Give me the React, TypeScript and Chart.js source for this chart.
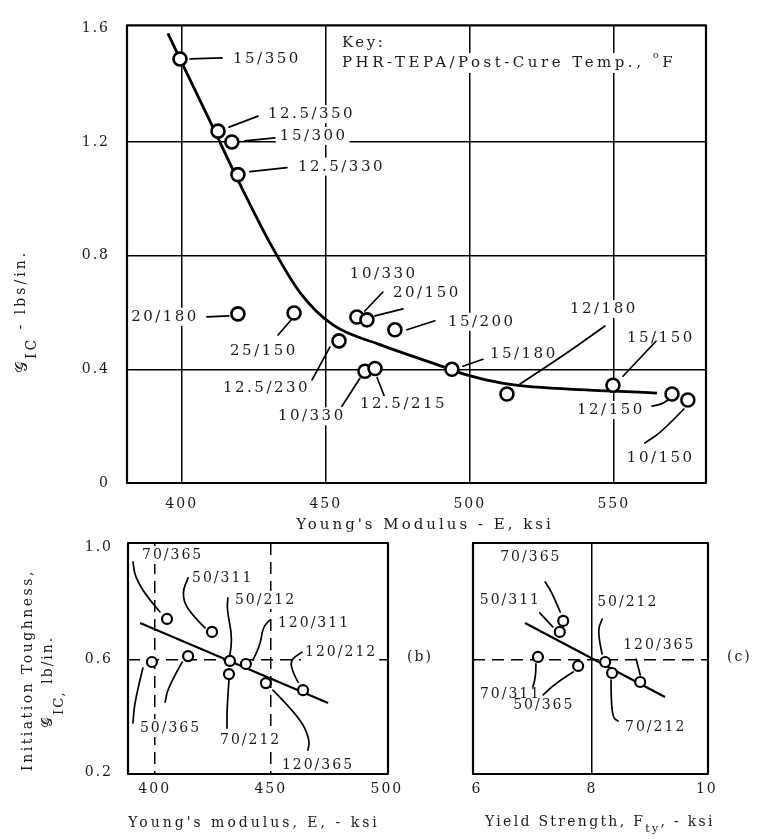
import { useEffect, useRef } from "react";
import { Chart, registerables } from "chart.js";
Chart.register(...registerables);

// ---------------- Panel (a): Young's modulus vs G_IC ----------------
const aNames = ["15/350", "12.5/350", "15/300", "12.5/330", "20/180", "25/150", "12.5/230", "10/330", "12.5/215", "10/330", "20/150", "15/200", "15/180", "12/180", "15/150", "12/150", "10/150"];
const aModulus = [399.4, 412.6, 417.4, 419.5, 419.5, 439.0, 454.6, 463.6, 467.1, 460.8, 464.3, 474.0, 493.8, 512.9, 549.7, 570.2, 575.7];
const aToughness = [1.492, 1.238, 1.2, 1.085, 0.595, 0.598, 0.5, 0.393, 0.403, 0.584, 0.574, 0.539, 0.4, 0.313, 0.344, 0.313, 0.292];
const aFitModulus = [395.2, 399.4, 409.8, 421.3, 430.6, 441.0, 452.5, 468.8, 491.4, 498.3, 511.2, 519.1, 565.0];
const aFitToughness = [1.582, 1.492, 1.273, 1.029, 0.845, 0.671, 0.556, 0.487, 0.407, 0.382, 0.351, 0.341, 0.316];
const aXTicks = [400, 450, 500, 550];
const aYTicks = [0, 0.4, 0.8, 1.2, 1.6];

// ---------------- Panel (b): Young's modulus vs initiation toughness ----------------
const bNames = ["70/365", "50/311", "50/365", "70/311", "50/212", "70/212", "120/311", "120/365", "120/212"];
const bModulus = [405.3, 424.7, 398.8, 414.4, 432.4, 432.0, 439.3, 447.9, 463.9];
const bToughness = [0.744, 0.698, 0.591, 0.612, 0.595, 0.548, 0.584, 0.516, 0.491];
const bFitModulus = [393.7, 474.7];
const bFitToughness = [0.73, 0.445];
const bXTicks = [400, 450, 500];
const bYTicks = [0.2, 0.6, 1.0];

// ---------------- Panel (c): yield strength vs initiation toughness ----------------
const cNames = ["70/365", "50/311", "70/311", "50/365", "50/212", "70/212", "120/365"];
const cYield = [7.5, 7.44, 7.06, 7.76, 8.23, 8.35, 8.84];
const cToughness = [0.737, 0.698, 0.609, 0.577, 0.591, 0.552, 0.52];
const cFitYield = [6.835, 9.271];
const cFitToughness = [0.73, 0.467];
const cXTicks = [6, 8, 10];
const cYTicks = [0.6];

// ---------------- label placement (pixel offsets from each point) ----------------
type Ann = { i: number; dx?: number; dy?: number; align?: CanvasTextAlign; hide?: boolean; path: number[][] };

const aAnn: Ann[] = [
  { i: 0, dx: 53, dy: 0, path: [[10, 0], [42, -1]] },
  { i: 1, dx: 50, dy: -17, path: [[11, -4], [40, -15]] },
  { i: 2, dx: 48, dy: -6, path: [[13, -1], [43, -4]] },
  { i: 3, dx: 60, dy: -8, path: [[12, -3], [49, -7]] },
  { i: 4, dx: -39, dy: 3, align: "right", path: [[-9, 2], [-31, 3]] },
  { i: 5, dx: -64, dy: 38, path: [[-3, 7], [-16, 22]] },
  { i: 6, dx: -116, dy: 47, path: [[-9, 6], [-27, 39]] },
  { i: 7, dx: -87, dy: 45, path: [[-5, 7], [-23, 35]] },
  { i: 8, dx: -15, dy: 36, path: [[2, 9], [9, 27]] },
  { i: 9, dx: -7, dy: -43, path: [[8, -6], [26, -25]] },
  { i: 10, dx: 26, dy: -27, path: [[8, -4], [36, -11]] },
  { i: 11, dx: 53, dy: -8, path: [[12, 0], [40, -9]] },
  { i: 12, dx: 38, dy: -15, path: [[11, -3], [31, -10]] },
  { i: 13, dx: 63, dy: -85, path: [[13, -10], [53, -36], [98, -68]] },
  { i: 14, dx: 14, dy: -47, path: [[10, -9], [43, -44]] },
  { i: 15, dx: -95, dy: 16, path: [[-20, 12], [-12, 11], [-4, 6]] },
  { i: 16, dx: -61, dy: 58, path: [[-4, 9], [-25, 31], [-43, 43]] },
];

const bAnn: Ann[] = [
  { i: 0, dx: -25, dy: -64, path: [[-7, -7], [-20, -22], [-32, -42], [-34, -57]] },
  { i: 1, dx: -20, dy: -54, path: [[-7, -4], [-25, -22], [-30, -39], [-24, -54]] },
  { i: 2, dx: -12, dy: 66, path: [[-9, 6], [-17, 38], [-19, 61]] },
  { i: 3, hide: true, path: [[-6, 6], [-20, 31], [-23, 46]] },
  { i: 4, dx: 5, dy: -61, path: [[0, -6], [3, -21], [-3, -51], [-2, -63]] },
  { i: 5, dx: -9, dy: 66, path: [[0, 6], [-2, 33], [-2, 54]] },
  { i: 6, dx: 32, dy: -41, path: [[7, -4], [14, -17], [17, -37], [24, -44]] },
  { i: 7, dx: 16, dy: 82, path: [[7, 7], [34, 34], [44, 57], [42, 67]] },
  { i: 8, dx: 2, dy: -38, path: [[-5, -8], [-10, -17], [-13, -30], [-1, -38]] },
];

const cAnn: Ann[] = [
  { i: 0, dx: -63, dy: -64, path: [[-3, -9], [-11, -28], [-18, -39]] },
  { i: 1, dx: -80, dy: -32, path: [[-7, -5], [-20, -19]] },
  { i: 2, dx: -58, dy: 37, path: [[-2, 7], [-2, 18], [-5, 30]] },
  { i: 3, dx: -65, dy: 39, path: [[-5, 6], [-21, 16], [-35, 29]] },
  { i: 4, dx: -8, dy: -60, path: [[-3, -8], [-8, -30], [-3, -43]] },
  { i: 5, dx: 13, dy: 54, path: [[-1, 7], [-1, 27], [1, 45], [6, 48]] },
  { i: 6, dx: -17, dy: -37, path: [[0, -7], [-4, -23]] },
];

const FONT = '"DejaVu Serif", serif';
const INK = "#1a1a1a";

type Part = { t: string; size: number; dy?: number };

function measureParts(ctx: CanvasRenderingContext2D, parts: Part[], ls: number) {
  (ctx as any).letterSpacing = `${ls}px`;
  let total = 0;
  for (const p of parts) {
    ctx.font = `${p.size}px ${FONT}`;
    total += ctx.measureText(p.t).width;
  }
  return total;
}

function drawParts(ctx: CanvasRenderingContext2D, x: number, y: number, rot: boolean, parts: Part[], ls: number, align: "left" | "center" = "left", bg = false) {
  ctx.save();
  ctx.translate(x, y);
  if (rot) ctx.rotate(-Math.PI / 2);
  const total = measureParts(ctx, parts, ls);
  ctx.textAlign = "left";
  ctx.textBaseline = "middle";
  let cx = align === "center" ? -total / 2 : 0;
  if (bg) {
    ctx.fillStyle = "#fff";
    ctx.fillRect(cx - 4, -10, total + 6, 20);
  }
  ctx.fillStyle = INK;
  for (const p of parts) {
    ctx.font = `${p.size}px ${FONT}`;
    ctx.fillText(p.t, cx, p.dy || 0);
    cx += ctx.measureText(p.t).width;
  }
  ctx.restore();
}

function smooth(ctx: CanvasRenderingContext2D, pts: number[][]) {
  ctx.beginPath();
  ctx.moveTo(pts[0][0], pts[0][1]);
  if (pts.length === 2) ctx.lineTo(pts[1][0], pts[1][1]);
  else {
    for (let k = 1; k < pts.length - 1; k++) {
      const mx = (pts[k][0] + pts[k + 1][0]) / 2;
      const my = (pts[k][1] + pts[k + 1][1]) / 2;
      ctx.quadraticCurveTo(pts[k][0], pts[k][1], mx, my);
    }
    const l = pts[pts.length - 1];
    ctx.lineTo(l[0], l[1]);
  }
  ctx.stroke();
}

function overlay(names: string[], anns: Ann[], size: number, ls: number, extra: (ctx: CanvasRenderingContext2D) => void) {
  return {
    id: "overlay",
    beforeDraw(chart: any) {
      chart.ctx.letterSpacing = "2px";
    },
    afterDraw(chart: any) {
      const ctx: CanvasRenderingContext2D = chart.ctx;
      const { left, top, right, bottom } = chart.chartArea;
      const meta = chart.getDatasetMeta(0);
      ctx.save();
      const placed = anns.map((a) => {
        const el = meta.data[a.i];
        const px = el.x, py = el.y;
        const parts = [{ t: names[a.i], size }];
        const w = measureParts(ctx, parts, ls);
        const x0 = px + (a.dx || 0);
        const lx = a.align === "right" ? x0 - w : x0;
        return { a, px, py, parts, w, lx, ly: py + (a.dy || 0) };
      });
      ctx.fillStyle = "#fff";
      for (const p of placed) if (!p.a.hide) ctx.fillRect(p.lx - 4, p.ly - 9, p.w + 6, 18);
      extra(ctx);
      ctx.strokeStyle = "#000";
      ctx.lineWidth = 1.7;
      ctx.lineCap = "round";
      ctx.lineJoin = "round";
      for (const p of placed) smooth(ctx, p.a.path.map((q) => [p.px + q[0], p.py + q[1]]));
      for (const p of placed) if (!p.a.hide) drawParts(ctx, p.lx, p.ly, false, p.parts, ls);
      ctx.strokeStyle = "#000";
      ctx.lineWidth = 2.2;
      ctx.strokeRect(left, top, right - left, bottom - top);
      ctx.restore();
    },
  };
}

function makeConfig(o: {
  xs: number[]; ys: number[]; fx: number[]; fy: number[];
  xMin: number; xMax: number; yMin: number; yMax: number;
  xTicks: number[]; yTicks: number[];
  xGrid: number[]; yGrid: number[];
  xDash: number[]; yDash: number[];
  padding: { left: number; top: number; right: number; bottom: number };
  yWidth: number; xHeight: number; yTickPad: number; xTickPad: number;
  showY: boolean; xFmt: (v: number) => string; yFmt: (v: number) => string;
  radius: number; pw: number; lw: number; curve: boolean;
  plugin: any;
}) {
  return {
    type: "scatter" as const,
    data: {
      datasets: [
        {
          data: o.xs.map((x, i) => ({ x, y: o.ys[i] })),
          pointRadius: o.radius,
          pointBorderWidth: o.pw,
          pointBackgroundColor: "#fff",
          pointBorderColor: "#000",
          showLine: false,
        },
        {
          data: o.fx.map((x, i) => ({ x, y: o.fy[i] })),
          showLine: true,
          pointRadius: 0,
          borderColor: "#000",
          borderWidth: o.lw,
          cubicInterpolationMode: o.curve ? ("monotone" as const) : ("default" as const),
          fill: false,
        },
      ],
    },
    options: {
      responsive: false,
      animation: false as const,
      events: [],
      devicePixelRatio: 1,
      layout: { padding: o.padding },
      plugins: { legend: { display: false }, tooltip: { enabled: false } },
      scales: {
        x: {
          type: "linear" as const,
          min: o.xMin,
          max: o.xMax,
          afterBuildTicks: (s: any) => { s.ticks = o.xTicks.map((v) => ({ value: v })); },
          afterFit: (s: any) => { s.height = o.xHeight; },
          ticks: { font: { family: FONT, size: 14 }, color: INK, padding: o.xTickPad, maxRotation: 0, autoSkip: false, callback: (v: any) => o.xFmt(Number(v)) },
          grid: { drawTicks: false, lineWidth: 1.5, color: (c: any) => (c.tick && o.xGrid.includes(c.tick.value) ? "#000" : "rgba(0,0,0,0)") },
          border: { display: false, dash: o.xDash },
        },
        y: {
          type: "linear" as const,
          min: o.yMin,
          max: o.yMax,
          afterBuildTicks: (s: any) => { s.ticks = o.yTicks.map((v) => ({ value: v })); },
          afterFit: (s: any) => { s.width = o.yWidth; },
          ticks: { display: o.showY, font: { family: FONT, size: 14 }, color: INK, padding: o.yTickPad, autoSkip: false, callback: (v: any) => o.yFmt(Number(v)) },
          grid: { drawTicks: false, lineWidth: 1.5, color: (c: any) => (c.tick && o.yGrid.includes(c.tick.value) ? "#000" : "rgba(0,0,0,0)") },
          border: { display: false, dash: o.yDash },
        },
      },
    },
    plugins: [o.plugin],
  };
}

export default function App() {
  const r1 = useRef<HTMLCanvasElement>(null);
  const r2 = useRef<HTMLCanvasElement>(null);
  const r3 = useRef<HTMLCanvasElement>(null);

  useEffect(() => {
    const charts: Chart[] = [];

    const pa = overlay(aNames, aAnn, 15, 2.5, (ctx) => {
      drawParts(ctx, 425, 525, false, [{ t: "Young's Modulus - E, ksi", size: 15 }], 3, "center");
      drawParts(ctx, 21, 373, true, [
        { t: "𝒢", size: 16, dy: 2 },
        { t: "IC", size: 14, dy: 11 },
        { t: " - lbs/in.", size: 14 },
      ], 3);
      drawParts(ctx, 342, 43, false, [{ t: "Key:", size: 15 }], 2.5, "left", true);
      drawParts(ctx, 342, 63, false, [
        { t: "PHR-TEPA/Post-Cure Temp., ", size: 15 },
        { t: "o", size: 10, dy: -8 },
        { t: "F", size: 15 },
      ], 3.5, "left", true);
    });
    charts.push(
      new Chart(r1.current!, makeConfig({
        xs: aModulus, ys: aToughness, fx: aFitModulus, fy: aFitToughness,
        xMin: 381, xMax: 582, yMin: 0, yMax: 1.61,
        xTicks: aXTicks, yTicks: aYTicks, xGrid: [400, 450, 500, 550], yGrid: [0.4, 0.8, 1.2],
        xDash: [], yDash: [],
        padding: { left: 67, top: 20, right: 52, bottom: 316 },
        yWidth: 60, xHeight: 40, yTickPad: 17, xTickPad: 13, showY: true,
        xFmt: (v) => String(v), yFmt: (v) => (v === 0 ? "0" : v.toFixed(1)),
        radius: 6.5, pw: 2.6, lw: 2.8, curve: true, plugin: pa,
      }) as any)
    );

    const pb = overlay(bNames, bAnn, 14, 2, (ctx) => {
      drawParts(ctx, 254, 823, false, [{ t: "Young's modulus, E, - ksi", size: 14 }], 3, "center");
      drawParts(ctx, 28, 670, true, [{ t: "Initiation Toughness,", size: 14 }], 2.5, "center");
      drawParts(ctx, 48, 728, true, [
        { t: "𝒢", size: 15 },
        { t: "IC,", size: 13, dy: 12 },
        { t: " lb/in.", size: 14 },
      ], 2);
      drawParts(ctx, 407, 657, false, [{ t: "(b)", size: 14 }], 2);
    });
    charts.push(
      new Chart(r2.current!, makeConfig({
        xs: bModulus, ys: bToughness, fx: bFitModulus, fy: bFitToughness,
        xMin: 388.5, xMax: 500.5, yMin: 0.193, yMax: 1.014,
        xTicks: bXTicks, yTicks: bYTicks, xGrid: [400, 450], yGrid: [0.6],
        xDash: [12, 7], yDash: [12, 7],
        padding: { left: 78, top: 543, right: 370, bottom: 35 },
        yWidth: 50, xHeight: 30, yTickPad: 15, xTickPad: 7, showY: true,
        xFmt: (v) => String(v), yFmt: (v) => v.toFixed(1),
        radius: 5, pw: 2.2, lw: 2.2, curve: false, plugin: pb,
      }) as any)
    );

    const pc = overlay(cNames, cAnn, 14, 2, (ctx) => {
      drawParts(ctx, 485, 822, false, [
        { t: "Yield Strength, F", size: 14 },
        { t: "ty", size: 11, dy: 7 },
        { t: ", - ksi", size: 14 },
      ], 2.3);
      drawParts(ctx, 727, 657, false, [{ t: "(c)", size: 14 }], 2);
    });
    charts.push(
      new Chart(r3.current!, makeConfig({
        xs: cYield, ys: cToughness, fx: cFitYield, fy: cFitToughness,
        xMin: 5.93, xMax: 10.02, yMin: 0.193, yMax: 1.014,
        xTicks: cXTicks, yTicks: cYTicks, xGrid: [8], yGrid: [0.6],
        xDash: [], yDash: [12, 7],
        padding: { left: 463, top: 543, right: 50, bottom: 35 },
        yWidth: 10, xHeight: 30, yTickPad: 5, xTickPad: 7, showY: false,
        xFmt: (v) => String(v), yFmt: (v) => v.toFixed(1),
        radius: 5, pw: 2.2, lw: 2.2, curve: false, plugin: pc,
      }) as any)
    );

    return () => charts.forEach((c) => c.destroy());
  }, []);

  const cs: React.CSSProperties = { position: "absolute", left: 0, top: 0, width: 758, height: 839 };
  return (
    <div style={{ position: "absolute", left: 0, top: 0, width: 758, height: 839, background: "#fff" }}>
      <canvas ref={r1} width={758} height={839} style={cs} />
      <canvas ref={r2} width={758} height={839} style={cs} />
      <canvas ref={r3} width={758} height={839} style={cs} />
    </div>
  );
}
